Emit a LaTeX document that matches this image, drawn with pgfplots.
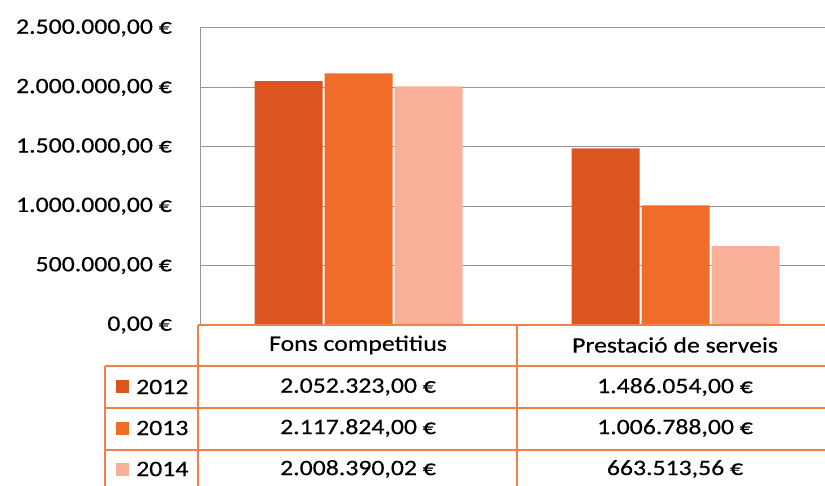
\documentclass[border=0pt]{standalone}
\usepackage{pgfplots}
\pgfplotsset{compat=1.18}
\usepackage{fontspec}
\setmainfont[FakeStretch=1.17,FakeBold=0.4]{Carlito}
\definecolor{cA}{RGB}{218,85,32}
\definecolor{cB}{RGB}{241,108,40}
\definecolor{cC}{RGB}{250,176,152}
\definecolor{tb}{RGB}{240,128,70}
\definecolor{gr}{RGB}{150,150,150}
\begin{document}
\fontsize{22}{26}\selectfont
\begin{tikzpicture}[x=1pt,y=1pt]
\begin{axis}[at={(200pt,161pt)}, anchor=south west, scale only axis,
  width=625pt, height=297pt,
  xmin=-0.5, xmax=1.4716, ymin=0, ymax=2500000,
  ybar=2pt, bar width=68pt,
  xtick=\empty,
  scaled y ticks=false,
  ytick={0,500000,1000000,1500000,2000000,2500000},
  yticklabels={{0,00 €},{500.000,00 €},{1.000.000,00 €},{1.500.000,00 €},{2.000.000,00 €},{2.500.000,00 €}},
  yticklabel style={anchor=east, inner sep=0pt, xshift=-28pt, font=\fontsize{22}{26}\selectfont},
  /pgf/number format/assume math mode=true,
  ymajorgrids, grid style={gr, line width=1pt},
  axis line style={draw=none}, major tick length=0pt,
  clip=true]
\addplot[fill=cA, draw=none] coordinates {(0,2052323) (1,1486054)};
\addplot[fill=cB, draw=none] coordinates {(0,2117824) (1,1006788)};
\addplot[fill=cC, draw=none] coordinates {(0,2008390.02) (1,663513.56)};
\end{axis}
\draw[gr, line width=1pt] (200,161) -- (200,458);
\begin{scope}[tb, line width=1.2pt]
\draw (198,161) -- (830,161);
\draw (198,161) -- (198,-5);
\draw (517,161) -- (517,-5);
\draw (105,120) -- (830,120);
\draw (105,78) -- (830,78);
\draw (105,36) -- (830,36);
\draw (105,120) -- (105,-5);
\end{scope}
\node at (358,141) {Fons competitius};
\node at (675,141) {Prestació de serveis};
\fill[cA] (116,93) rectangle (129,106);
\fill[cB] (116,51) rectangle (129,64);
\fill[cC] (116,10) rectangle (129,23);
\node[anchor=west, inner sep=0pt] at (136,99) {2012};
\node[anchor=west, inner sep=0pt] at (136,58) {2013};
\node[anchor=west, inner sep=0pt] at (136,17) {2014};
\node at (358,99) {2.052.323,00 €};
\node at (358,58) {2.117.824,00 €};
\node at (358,17) {2.008.390,02 €};
\node at (675,99) {1.486.054,00 €};
\node at (675,58) {1.006.788,00 €};
\node at (675,17) {663.513,56 €};
\pgfresetboundingbox
\useasboundingbox (0,0) rectangle (825,486);
\end{tikzpicture}
\end{document}
